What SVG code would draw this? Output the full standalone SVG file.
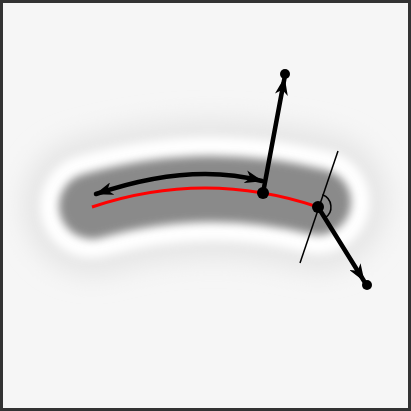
<svg xmlns="http://www.w3.org/2000/svg" width="411" height="411" viewBox="0 0 411 411">
  <defs>
    <filter id="blurBig" filterUnits="userSpaceOnUse" x="0" y="0" width="411" height="411"><feGaussianBlur stdDeviation="12"/></filter>
    <filter id="blurMid" filterUnits="userSpaceOnUse" x="0" y="0" width="411" height="411"><feGaussianBlur stdDeviation="5"/></filter>
    <filter id="blurSm" filterUnits="userSpaceOnUse" x="0" y="0" width="411" height="411"><feGaussianBlur stdDeviation="4"/></filter>
    <marker id="ah" viewBox="0 0 18 13" refX="17" refY="6.5" markerWidth="18" markerHeight="13" markerUnits="userSpaceOnUse" orient="auto-start-reverse">
      <path d="M0,0 L18,6.5 L0,13 L5,6.5 Z" fill="#000"/>
    </marker>
    <style>
      .band { fill: none; stroke-linecap: round; }
      .arrow { fill: none; stroke: #000; stroke-width: 4.5; stroke-linecap: round; }
      .dot { fill: #000; }
    </style>
  </defs>
  <rect x="0" y="0" width="411" height="411" fill="#f6f6f6"/>
  <g id="blob">
    <path class="band" d="M92,206 Q205,174 318,202" stroke="#e6e6e6" stroke-width="140" filter="url(#blurBig)"/>
    <path class="band" d="M92,206 Q205,174 318,202" stroke="#ffffff" stroke-width="104" filter="url(#blurMid)"/>
    <path class="band" d="M92,206 Q205,174 318,202" stroke="#8a8a8a" stroke-width="66" filter="url(#blurSm)"/>
  </g>
  <g id="curve">
    <path d="M92,207 Q205,169 318,207" fill="none" stroke="#ff0000" stroke-width="3"/>
  </g>
  <g id="connectors">
    <path class="arrow" d="M96,194 Q190,162 262,181" marker-start="url(#ah)" marker-end="url(#ah)"/>
    <path class="arrow" d="M263,193 L284.5,78" marker-end="url(#ah)"/>
    <path class="arrow" d="M318,207 L364,281" marker-end="url(#ah)"/>
    <path d="M338,151 L300,263" fill="none" stroke="#000" stroke-width="1.5"/>
    <path d="M322.4,194.8 A13,13 0 0 1 324.9,218" fill="none" stroke="#000" stroke-width="1.5"/>
  </g>
  <g id="points">
    <circle class="dot" cx="263" cy="193" r="6"/>
    <circle class="dot" cx="318" cy="207" r="6"/>
    <circle class="dot" cx="285" cy="74" r="5"/>
    <circle class="dot" cx="367" cy="285" r="5"/>
  </g>
  <rect x="1.5" y="1.5" width="408" height="408" fill="none" stroke="#333" stroke-width="3"/>
</svg>
